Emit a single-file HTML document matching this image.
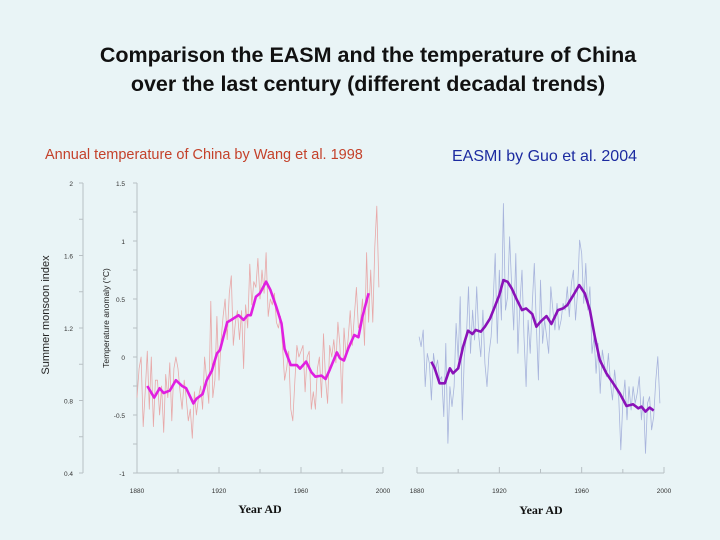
<!DOCTYPE html>
<html><head><meta charset="utf-8"><style>
html,body{margin:0;padding:0;background:#e9f4f6;}
svg{display:block;}
</style></head><body>
<svg id="chart" width="720" height="540" xmlns="http://www.w3.org/2000/svg" font-family="Liberation Sans, sans-serif">
<rect width="720" height="540" fill="#e9f4f6"/>
<text x="368" y="62" text-anchor="middle" font-size="21.5" font-weight="bold" fill="#111">Comparison the EASM and the temperature of China</text>
<text x="368" y="91" text-anchor="middle" font-size="21.5" font-weight="bold" fill="#111">over the last century (different decadal trends)</text>
<text x="45" y="159" font-size="14.5" fill="#c4412a">Annual temperature of China by Wang et al. 1998</text>
<text x="452" y="161" font-size="16" fill="#1c2ba0">EASMI by Guo et al. 2004</text>
<text transform="translate(49,315) rotate(-90)" text-anchor="middle" font-size="11" fill="#222">Summer monsoon index</text>
<text transform="translate(109,318) rotate(-90)" text-anchor="middle" font-size="8.5" fill="#222">Temperature anomaly (°C)</text>
<text x="260" y="513" text-anchor="middle" font-size="12" font-weight="bold" font-family="Liberation Serif, serif" fill="#111">Year AD</text>
<text x="541" y="514" text-anchor="middle" font-size="12" font-weight="bold" font-family="Liberation Serif, serif" fill="#111">Year AD</text>
<g id="left"></g>
<g id="right"></g>
</svg>
<script>
const tempYearStart = 1880;
const tempRaw = [-0.35,-0.1,0.0,-0.6,-0.3,0.05,-0.45,0.0,-0.6,-0.2,
-0.2,-0.5,-0.25,-0.65,-0.15,-0.35,-0.05,-0.55,-0.1,0.0,
-0.1,-0.3,-0.45,-0.2,-0.35,-0.55,-0.45,-0.7,-0.3,-0.5,
-0.35,-0.25,-0.45,0.0,-0.2,-0.4,0.48,-0.35,-0.2,0.35,
-0.2,0.15,0.35,0.5,0.15,0.55,0.7,0.1,0.3,0.4,
0.15,0.4,-0.1,0.45,0.25,0.8,0.45,0.65,0.6,0.85,
0.5,0.75,0.55,0.9,0.35,0.5,0.45,0.55,0.3,0.25,
0.35,0.1,-0.2,-0.1,0.05,-0.45,-0.55,-0.2,0.1,0.0,
0.05,0.1,-0.3,0.0,0.05,-0.45,-0.3,-0.45,-0.1,0.0,
-0.35,0.2,-0.2,-0.4,0.1,0.0,0.15,-0.05,0.3,0.1,
-0.4,0.25,0.0,0.15,0.4,0.1,0.35,0.6,0.25,0.3,
0.5,0.1,0.9,0.3,0.75,0.3,0.95,1.3,0.6];
const tempSmoothYears = [1885,1888.4,1891,1893,1896,1899,1902,1904,1907.5,1909,1912,1914,1916.5,1919,1920.5,1924,1926,1929.5,1932,1934,1935.5,1938,1940,1943,1945,1948,1950.5,1952,1955,1958,1959.5,1962.5,1965,1967,1970,1972,1974,1977.5,1979,1981,1983,1986,1988,1990,1993];
const tempSmooth = [-0.25,-0.35,-0.27,-0.31,-0.29,-0.2,-0.25,-0.27,-0.4,-0.36,-0.32,-0.2,-0.12,0.03,0.06,0.3,0.32,0.36,0.32,0.36,0.36,0.52,0.55,0.65,0.58,0.43,0.29,0.07,-0.07,-0.07,-0.1,-0.04,-0.13,-0.17,-0.16,-0.19,-0.11,0.04,-0.01,-0.03,0.07,0.19,0.17,0.35,0.55];
const tempTicks = [1.5,1,0.5,0,-0.5,-1];
const tempTickLabels = ["1.5","1","0.5","0","-0.5","-1"];
const monsoonTicks = [2,1.6,1.2,0.8,0.4];
const monsoonTickLabels = ["2","1.6","1.2","0.8","0.4"];
const yearTicks = [1880,1920,1960,2000];
const yearTickLabels = ["1880","1920","1960","2000"];

const easmYearStart = 1881;
const easmRaw = [1.0,0.7,1.2,-0.5,0.5,0.2,-0.9,0.5,0.0,0.3,
-0.3,-0.2,-1.4,0.8,-2.2,-0.5,-1.1,-0.5,1.4,0.3,
2.2,-1.5,0.4,1.0,2.5,0.5,1.8,0.9,2.5,1.0,
0.4,1.8,0.2,-0.5,0.5,1.0,2.1,3.5,0.8,3.0,
1.5,5.0,1.8,2.2,4.0,2.5,1.2,3.5,0.5,2.0,
3.0,1.0,-0.5,1.5,0.5,2.0,3.2,1.3,-0.3,2.7,
0.8,1.5,1.0,0.5,2.5,1.8,1.2,2.0,1.2,1.5,
2.0,1.8,2.5,1.6,2.6,3.0,1.5,2.3,3.9,3.5,
2.0,3.2,1.8,2.5,0.5,1.0,-0.1,0.8,-0.7,0.6,
0.2,-0.2,0.5,-0.4,-0.9,0.0,-0.6,-0.8,-2.4,-1.0,
-0.3,-1.5,-0.5,-1.2,-0.5,-1.0,-0.7,-0.2,-1.5,-0.8,
-2.5,-1.0,-0.8,-1.8,-1.4,-0.3,0.4,-1.0];
const easmSmoothYears = [1887,1888.6,1891,1893.5,1896,1897.5,1900,1902.4,1904.8,1906.9,1908.5,1911,1913,1915.5,1917.8,1920,1922,1924,1926,1928.6,1931,1933,1936,1938,1940,1942.9,1945.3,1948.5,1951,1953,1956,1958.8,1961.5,1964,1966.4,1968.8,1972,1975.3,1978.5,1981.8,1985,1987.5,1989,1991,1993,1995];
const easmSmooth = [0.25,0.05,-0.4,-0.4,0.05,-0.1,0.05,0.7,1.18,1.08,1.2,1.15,1.3,1.55,1.9,2.25,2.7,2.65,2.45,2.1,1.8,1.85,1.68,1.3,1.45,1.62,1.38,1.8,1.85,1.95,2.25,2.55,2.3,1.8,1.0,0.3,-0.1,-0.4,-0.7,-1.08,-1.03,-1.15,-1.1,-1.25,-1.13,-1.22];

const NS='http://www.w3.org/2000/svg';
function mk(parent,tag,attrs){const e=document.createElementNS(NS,tag);for(const k in attrs)e.setAttribute(k,attrs[k]);parent.appendChild(e);return e;}
// left scales
const lx = y => 137 + (y-1880)*(246/120);
const ly = v => 357 - v*116;
const my = v => 473 - (v-0.4)*(290/1.6);
// right scales
const rx = y => 417 + (y-1880)*(247/120);
const ry = v => 370 - v*33.3;

const L=document.getElementById('left'), R=document.getElementById('right');
const axisCol='#b8c0c4';
// monsoon axis
let a=mk(L,'line',{x1:83,y1:183,x2:83,y2:473,stroke:axisCol,'stroke-width':1});


for(let v=0.4;v<=2.001;v+=0.2){mk(L,'line',{x1:79,x2:83,y1:my(v),y2:my(v),stroke:axisCol});}
monsoonTicks.forEach((v,i)=>{const t=mk(L,'text',{x:73,y:my(v)+3,'text-anchor':'end','font-size':6.5,fill:'#333'});t.textContent=monsoonTickLabels[i];

});
// temp axis
a=mk(L,'line',{x1:137,y1:183,x2:137,y2:473,stroke:axisCol});


for(let v=-1;v<=1.501;v+=0.25){mk(L,'line',{x1:133,x2:137,y1:ly(v),y2:ly(v),stroke:axisCol});}
tempTicks.forEach((v,i)=>{const t=mk(L,'text',{x:125,y:ly(v)+3,'text-anchor':'end','font-size':6.5,fill:'#333'});t.textContent=tempTickLabels[i];

});
// x axes
function xAxis(P,sx,y0,name){
  const ax=mk(P,'line',{x1:sx(1880),x2:sx(2000),y1:y0,y2:y0,stroke:axisCol});
  
  
  for(let yr=1880;yr<=2000;yr+=20){mk(P,'line',{x1:sx(yr),x2:sx(yr),y1:y0-(yr%40===0?6:4),y2:y0,stroke:axisCol});}
  yearTicks.forEach((yr,i)=>{const t=mk(P,'text',{x:sx(yr),y:y0+20,'text-anchor':'middle','font-size':6.5,fill:'#333'});t.textContent=yearTickLabels[i];
  
  });
}
xAxis(L,lx,473,'left-x-axis');
xAxis(R,rx,473,'right-x-axis');
// series
function line(P,xs,ys,sx,sy,stroke,w,name){
  const d=xs.map((x,i)=>(i?'L':'M')+sx(x).toFixed(1)+','+sy(ys[i]).toFixed(1)).join('');
  const p=mk(P,'path',{d:d,fill:'none',stroke:stroke,'stroke-width':w,'stroke-linejoin':'round'});
  
  
}
line(L,tempRaw.map((_,i)=>tempYearStart+i),tempRaw,lx,ly,'#e8a8a8',0.8,'temperature-annual-line');
line(L,tempSmoothYears,tempSmooth,lx,ly,'#e020e0',2.6,'temperature-smoothed-line');
line(R,easmRaw.map((_,i)=>easmYearStart+i),easmRaw,rx,ry,'#a8b4dc',0.8,'easmi-annual-line');
line(R,easmSmoothYears,easmSmooth,rx,ry,'#8a12b8',2.6,'easmi-smoothed-line');
</script>
</body></html>
